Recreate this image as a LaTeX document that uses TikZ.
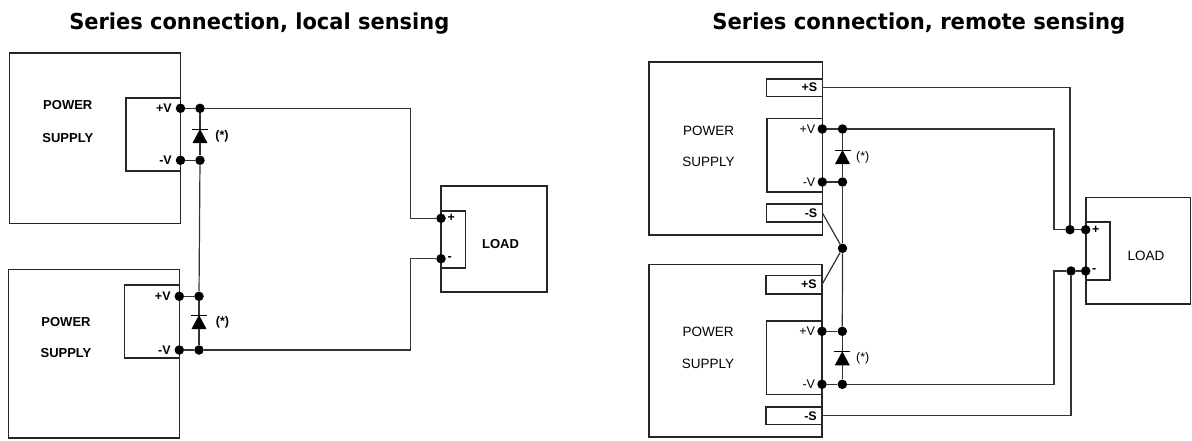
\documentclass[tikz,border=0pt]{standalone}
\usepackage{fontspec}
\usepackage{graphicx}
\setmainfont{Liberation Sans}
\newfontfamily\titlefont{DejaVu Sans}
\usetikzlibrary{calc}
\definecolor{boxcol}{HTML}{262626}
\definecolor{wirecol}{HTML}{333333}
\begin{document}
\begin{tikzpicture}[x=1pt,y=-1pt,
  box/.style={draw=boxcol, line width=1.6pt, rectangle, inner sep=0pt, outer sep=0pt},
  wire/.style={draw=wirecol, line width=1.2pt},
  dot/.style={circle, fill=black, inner sep=0pt, minimum size=9.5pt},
  blbl/.style={font=\fontsize{13}{13}\selectfont\bfseries, inner sep=0pt},
  rlbl/.style={font=\fontsize{13.5}{13.5}\selectfont, inner sep=0pt},
  btrm/.style={font=\fontsize{12.5}{12.5}\selectfont\bfseries, inner sep=0pt},
  rtrm/.style={font=\fontsize{12.5}{12.5}\selectfont, inner sep=0pt},
  ttl/.style={font=\fontsize{22}{22}\selectfont\titlefont\bfseries, inner sep=0pt, anchor=base},
  diode/.pic={\fill[black] (-7.5,7) -- (7.5,7) -- (0,-7) -- cycle;
              \draw[black, line width=1pt] (-8,-7) -- (8,-7);}
]
\useasboundingbox (0,0) rectangle (1192,440);
\fill[white] (0,0) rectangle (1192,440);

% ---------- titles ----------
\node[ttl] (t1) at (259.3,29) {\resizebox{380pt}{\height}{Series connection, local sensing}};
\node[ttl] (t2) at (918.9,29) {\resizebox{413pt}{\height}{Series connection, remote sensing}};

% ================= LEFT PANEL =================
% upper supply
\node[box, minimum width=171pt, minimum height=170.6pt] (psA) at (95,138) {};
\node[box, minimum width=54.5pt, minimum height=73pt] (tA) at (153.25,134.2) {};
\node[blbl] (pwA) at (67.8,105.5) {POWER};
\node[blbl] (spA) at (67.8,138) {SUPPLY};
\node[btrm, anchor=east] (lvA) at (172,108.5) {+V};
\node[btrm, anchor=east] (lnA) at (172,160.3) {-V};
% lower supply
\node[box, minimum width=171pt, minimum height=168.5pt] (psB) at (94,353.9) {};
\node[box, minimum width=54.8pt, minimum height=72.7pt] (tB) at (151.9,321.35) {};
\node[blbl] (pwB) at (66,322) {POWER};
\node[blbl] (spB) at (66,353.3) {SUPPLY};
\node[btrm, anchor=east] (lvB) at (170.8,296.3) {+V};
\node[btrm, anchor=east] (lnB) at (170.8,350) {-V};
% load
\node[box, minimum width=106pt, minimum height=106pt] (ldA) at (494,239) {};
\node[box, minimum width=24.5pt, minimum height=57.3pt] (ltA) at (453.25,239.35) {};
\node[blbl] (ldtA) at (500.5,244.5) {LOAD};
\node[btrm, anchor=west] (lpA) at (447.5,218.3) {+};
\node[btrm, anchor=west] (lmA) at (447.5,259) {-};

% dots
\node[dot] (vA1) at (180.5,108.3) {};
\node[dot] (vA2) at (200,108.3) {};
\node[dot] (nA1) at (180.5,160.3) {};
\node[dot] (nA2) at (200,160.3) {};
\node[dot] (vB1) at (179.3,296.3) {};
\node[dot] (vB2) at (199,296.3) {};
\node[dot] (nB1) at (179.3,350) {};
\node[dot] (nB2) at (199,350) {};
\node[dot] (pA) at (441,218.3) {};
\node[dot] (mA) at (441,258.7) {};
\coordinate (xA) at (410.3,0);

% wires
\draw[wire] (vA1) -- (vA2);
\draw[wire] (nA1) -- (nA2);
\draw[wire] (vA2) -- (nA2);
\draw[wire] (nA2) -- (vB2);
\draw[wire] (vB1) -- (vB2);
\draw[wire] (nB1) -- (nB2);
\draw[wire] (vB2) -- (nB2);
\draw[wire] (vA2) -- (vA2 -| xA) |- (pA);
\draw[wire] (nB2) -- (nB2 -| xA) |- (mA);

% diodes
\pic (dA) at (200,136) {diode};
\pic (dB) at (199,322) {diode};
\node[btrm] (sA) at (222,136.5) {(*)};
\node[btrm] (sB) at (222.5,322) {(*)};

% ================= RIGHT PANEL =================
% upper supply
\node[box, minimum width=173.3pt, minimum height=172.7pt] (psC) at (735.65,148.35) {};
\node[box, minimum width=55.9pt, minimum height=17.6pt] (spsC) at (794.35,87.5) {};
\node[box, minimum width=55.6pt, minimum height=73.4pt] (tC) at (794.5,155) {};
\node[box, minimum width=55.9pt, minimum height=17.7pt] (snsC) at (794.35,212.85) {};
\node[rlbl] (pwC) at (708.5,130.5) {POWER};
\node[rlbl] (spC) at (708.5,162.3) {SUPPLY};
\node[btrm, anchor=east] (lspC) at (817.5,87.5) {+S};
\node[rtrm, anchor=east] (lvC) at (815.5,129) {+V};
\node[rtrm, anchor=east] (lnC) at (815.5,182) {-V};
\node[btrm, anchor=east] (lsnC) at (817.5,213) {-S};
% lower supply
\node[box, minimum width=173pt, minimum height=172.4pt] (psD) at (735.5,350.5) {};
\node[box, minimum width=55.9pt, minimum height=18.4pt] (spsD) at (794.05,284.5) {};
\node[box, minimum width=55.6pt, minimum height=73.6pt] (tD) at (794.2,357.5) {};
\node[box, minimum width=55.9pt, minimum height=17.6pt] (snsD) at (794.05,415.5) {};
\node[rlbl] (pwD) at (708,332.3) {POWER};
\node[rlbl] (spD) at (708,364.3) {SUPPLY};
\node[btrm, anchor=east] (lspD) at (817,284.3) {+S};
\node[rtrm, anchor=east] (lvD) at (815.2,331.3) {+V};
\node[rtrm, anchor=east] (lnD) at (815.2,384.3) {-V};
\node[btrm, anchor=east] (lsnD) at (817,416) {-S};
% load
\node[box, minimum width=104.8pt, minimum height=106.7pt] (ldR) at (1138.1,250.65) {};
\node[box, minimum width=24.3pt, minimum height=58.3pt] (ltR) at (1097.85,250.85) {};
\node[rlbl] (ldtR) at (1146,256) {LOAD};
\node[btrm, anchor=west] (lpR) at (1092,229.7) {+};
\node[btrm, anchor=west] (lmR) at (1092,271) {-};

% dots
\node[dot] (vC1) at (822.3,129) {};
\node[dot] (vC2) at (842.5,129) {};
\node[dot] (nC1) at (822.3,182) {};
\node[dot] (nC2) at (842.5,182) {};
\node[dot] (jn) at (842.5,248.3) {};
\node[dot] (vD1) at (822,331.3) {};
\node[dot] (vD2) at (842.3,331.3) {};
\node[dot] (nD1) at (822,384.3) {};
\node[dot] (nD2) at (842.3,384.3) {};
\node[dot] (rp1) at (1070,229.7) {};
\node[dot] (rp) at (1085.7,229.7) {};
\node[dot] (rn1) at (1071,271) {};
\node[dot] (rn) at (1085.7,271) {};
\coordinate (xR) at (1054,0);

% wires
\draw[wire] (vC1) -- (vC2);
\draw[wire] (nC1) -- (nC2);
\draw[wire] (vC2) -- (nC2);
\draw[wire] (nC2) -- (jn);
\draw[wire] (jn) -- (vD2);
\draw[wire] (vD1) -- (vD2);
\draw[wire] (nD1) -- (nD2);
\draw[wire] (vD2) -- (nD2);
\draw[wire] (snsC.east) -- (jn);
\draw[wire] (spsD.east) -- (jn);
\draw[wire] (spsC.east) -- (spsC.east -| rp1) -- (rp1);
\draw[wire] (vC2) -- (vC2 -| xR) |- (rp1);
\draw[wire] (rp1) -- (rp);
\draw[wire] (nD2) -- (nD2 -| xR) |- (rn1);
\draw[wire] (rn1) -- (rn);
\draw[wire] (snsD.east) -- (snsD.east -| rn1) -- (rn1);

% diodes
\pic (dC) at (842.5,157) {diode};
\pic (dD) at (842.3,358.3) {diode};
\node[rtrm] (sC) at (862.7,157.7) {(*)};
\node[rtrm] (sD) at (862.7,358.5) {(*)};
\end{tikzpicture}
\end{document}
